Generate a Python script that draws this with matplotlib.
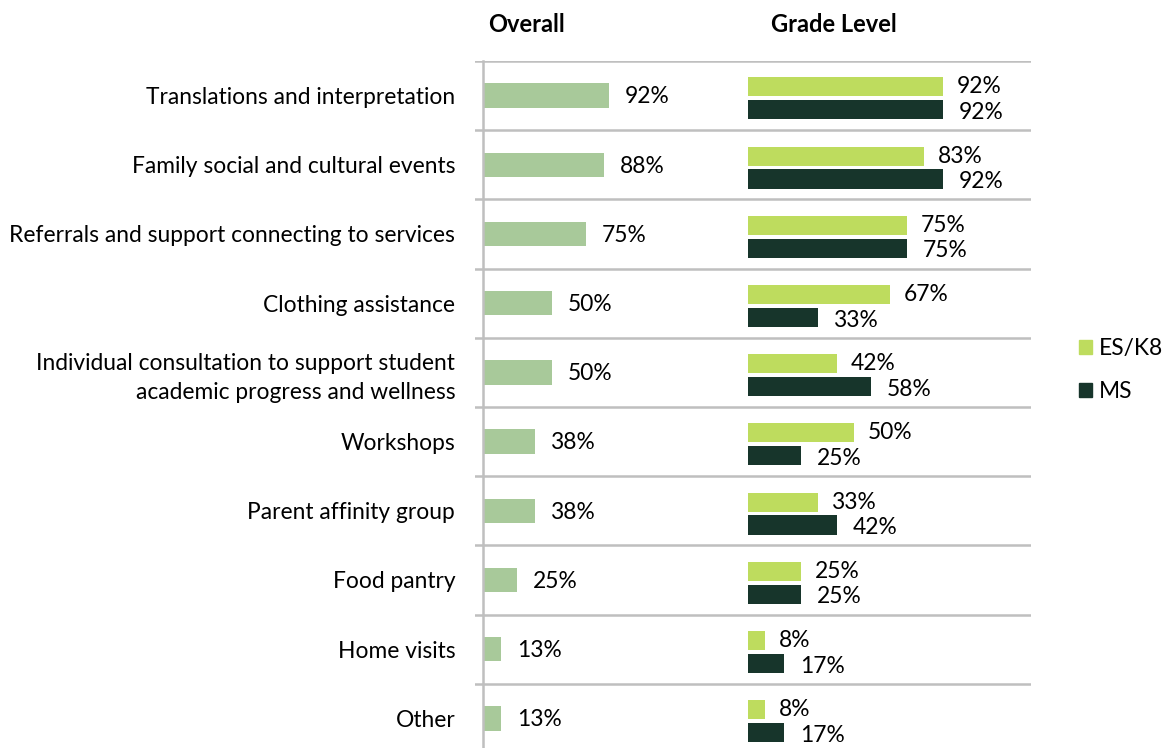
import matplotlib.pyplot as plt
from matplotlib.patches import Patch

categories = [
    "Translations and interpretation",
    "Family social and cultural events",
    "Referrals and support connecting to services",
    "Clothing assistance",
    "Individual consultation to support student\nacademic progress and wellness",
    "Workshops",
    "Parent affinity group",
    "Food pantry",
    "Home visits",
    "Other",
]
overall = [92, 88, 75, 50, 50, 38, 38, 25, 13, 13]
es_k8 = [92, 83, 75, 67, 42, 50, 33, 25, 8, 8]
ms = [92, 92, 75, 33, 58, 25, 42, 25, 17, 17]

C_OVERALL = "#a8c99a"
C_ES = "#bedc5e"
C_MS = "#17352b"
C_GRID = "#bfbfbf"

plt.rcParams["font.family"] = ["Lato", "DejaVu Sans"]
FS = 16.4

W, H = 1164, 748
fig = plt.figure(figsize=(W / 100, H / 100), dpi=100)

def frame(x0, x1, y0, y1):
    return [x0 / W, 1 - y1 / H, (x1 - x0) / W, (y1 - y0) / H]

top, bot = 61, 753
n = len(categories)

# separators
bg = fig.add_axes(frame(475, 1031, top, bot))
bg.set_xlim(0, 1)
bg.set_ylim(n - 0.5, -0.5)
for i in range(n):
    bg.axhline(i - 0.5, color=C_GRID, lw=1.8)
bg.axis("off")

ax1 = fig.add_axes(frame(483, 620, top, bot))
ax2 = fig.add_axes(frame(748, 960, top, bot))
for ax in (ax1, ax2):
    ax.set_xlim(0, 100)
    ax.set_ylim(n - 0.5, -0.5)
    ax.patch.set_visible(False)
    ax.set_xticks([])
    for s in ax.spines.values():
        s.set_visible(False)

ys = list(range(n))
ax1.barh(ys, overall, height=0.35, color=C_OVERALL)
for y, v in zip(ys, overall):
    ax1.annotate(f"{v}%", (v, y), xytext=(11.5, -1), textcoords="offset points",
                 va="center", ha="left", fontsize=FS)
ax1.spines["left"].set_visible(True)
ax1.spines["left"].set_color(C_GRID)
ax1.spines["left"].set_linewidth(1.8)
ax1.set_yticks(ys)
ax1.set_yticklabels(categories, fontsize=FS, linespacing=1.45)
ax1.tick_params(axis="y", length=0, pad=20)

off_es, off_ms, bh = -0.125, 0.205, 0.275
ax2.barh([y + off_es for y in ys], es_k8, height=bh, color=C_ES)
ax2.barh([y + off_ms for y in ys], ms, height=bh, color=C_MS)
for y, a, b in zip(ys, es_k8, ms):
    ax2.annotate(f"{a}%", (a, y + off_es), xytext=(10, 0), textcoords="offset points",
                 va="center", ha="left", fontsize=FS)
    ax2.annotate(f"{b}%", (b, y + off_ms), xytext=(11.5, -2), textcoords="offset points",
                 va="center", ha="left", fontsize=FS)
ax2.set_yticks([])

fig.text(488 / W, 1 - 24 / H, "Overall", fontsize=17, fontweight="bold", va="center")
fig.text(771 / W, 1 - 24 / H, "Grade Level", fontsize=17, fontweight="bold", va="center")

handles = [Patch(color=C_ES, label="ES/K8"), Patch(color=C_MS, label="MS")]
fig.legend(handles=handles, loc="center left", bbox_to_anchor=(1079 / W, 1 - 370 / H),
           frameon=False, fontsize=FS, handlelength=0.57, handleheight=0.57,
           handletextpad=0.3, labelspacing=0.95, borderpad=0, borderaxespad=0)

fig.savefig("out.png", dpi=100)
